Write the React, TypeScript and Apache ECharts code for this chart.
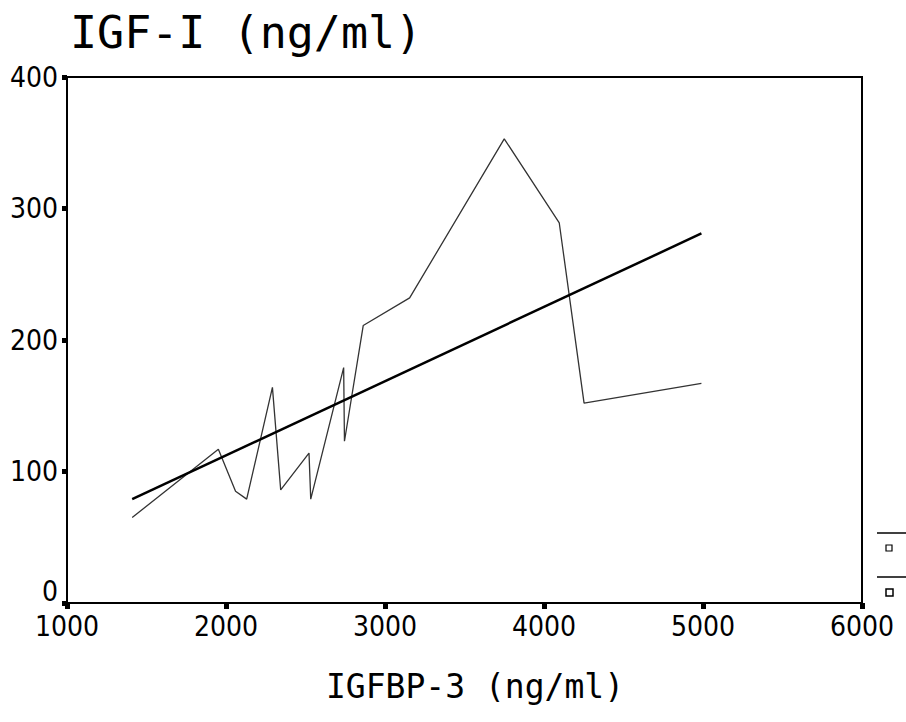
import React, { useEffect, useRef } from "react";
import * as echarts from "echarts";

const igfbp3 = [1410, 1952, 2060, 2130, 2292, 2344, 2522, 2533, 2740, 2745, 2863, 3155, 3750, 4096, 4252, 4990];
const igf1 = [65, 117, 85, 79, 164, 86, 114, 79, 179, 123, 211, 232, 353, 289, 152, 167];
const fitX = [1410, 4990];
const fitY = [79, 281];
const titleText = "IGF-I (ng/ml)";
const xName = "IGFBP-3 (ng/ml)";

export default function App() {
  const ref = useRef<HTMLDivElement>(null);
  useEffect(() => {
    if (!ref.current) return;
    const chart = echarts.init(ref.current, null, { renderer: "svg" });
    const labelFont = {
      fontFamily: "'DejaVu Sans Condensed', 'DejaVu Sans', sans-serif",
      fontSize: 28,
      color: "#000",
    };
    chart.setOption({
      animation: false,
      backgroundColor: "#fff",
      grid: {
        left: 67,
        top: 77,
        width: 795,
        height: 526,
        show: true,
        borderColor: "#000",
        borderWidth: 2,
      },
      xAxis: {
        type: "value",
        min: 1000,
        max: 6000,
        interval: 1000,
        axisLine: { lineStyle: { color: "#000", width: 2 } },
        axisTick: { length: 6, lineStyle: { color: "#000", width: 5 } },
        axisLabel: { ...labelFont, margin: 9, formatter: (v: number) => String(v) },
        splitLine: { show: false },
      },
      yAxis: {
        type: "value",
        min: 0,
        max: 400,
        interval: 100,
        axisLine: { show: true, lineStyle: { color: "#000", width: 2 } },
        axisTick: { show: true, length: 5, lineStyle: { color: "#000", width: 5 } },
        axisLabel: {
          ...labelFont,
          margin: 9,
          formatter: (v: number) => (v === 0 ? "{z|0}" : String(v)),
          rich: { z: { ...labelFont, padding: [0, 0, 24, 0] } },
        },
        splitLine: { show: false },
      },
      graphic: [
        {
          type: "text",
          left: 70,
          top: 10,
          style: {
            text: titleText,
            fontFamily: "'DejaVu Sans Mono', monospace",
            fontSize: 45,
            fill: "#000",
          },
        },
        {
          type: "text",
          x: 475,
          y: 686,
          style: {
            text: xName,
            fontFamily: "'DejaVu Sans Mono', monospace",
            fontSize: 33,
            fill: "#000",
            align: "center",
            verticalAlign: "middle",
          },
        },
        { type: "line", shape: { x1: 877, y1: 533, x2: 906, y2: 533 }, style: { stroke: "#000", lineWidth: 1.5 } },
        { type: "rect", shape: { x: 886, y: 545, width: 6, height: 6 }, style: { stroke: "#000", fill: "none", lineWidth: 1.2 } },
        { type: "line", shape: { x1: 877, y1: 577, x2: 906, y2: 577 }, style: { stroke: "#000", lineWidth: 1.5 } },
        { type: "rect", shape: { x: 886, y: 589, width: 7, height: 7 }, style: { stroke: "#000", fill: "none", lineWidth: 1.5 } },
      ],
      series: [
        {
          type: "line",
          data: igfbp3.map((x, i) => [x, igf1[i]]),
          showSymbol: false,
          lineStyle: { color: "#333", width: 1.3 },
        },
        {
          type: "line",
          data: fitX.map((x, i) => [x, fitY[i]]),
          showSymbol: false,
          lineStyle: { color: "#000", width: 2.5 },
        },
      ],
    });
    return () => chart.dispose();
  }, []);
  return (
    <div
      ref={ref}
      style={{ position: "fixed", left: 0, top: 0, width: 906, height: 722 }}
    />
  );
}
